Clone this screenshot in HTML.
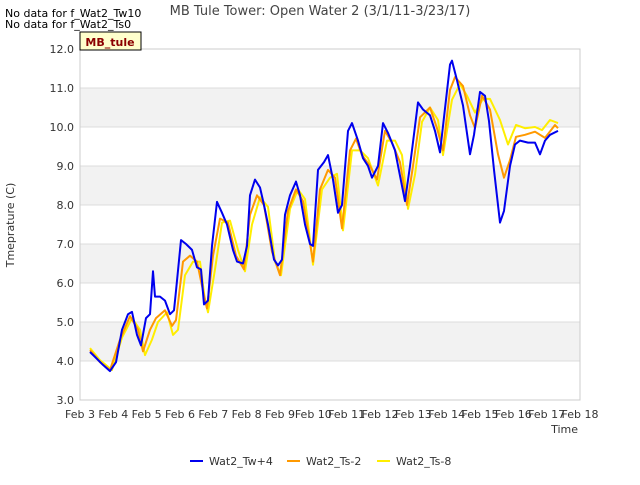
<!DOCTYPE html>
<html><head><meta charset="utf-8"><style>
body{margin:0;background:#fff;font-family:"Liberation Sans",sans-serif;}
svg text{font-family:"DejaVu Sans","Liberation Sans",sans-serif;}
</style></head><body>
<svg id="chart" width="640" height="480">
<text x="5" y="17" font-size="11" fill="#000">No data for f_Wat2_Tw10</text>
<text x="5" y="28" font-size="11" fill="#000">No data for f_Wat2_Ts0</text>
<text x="320" y="15" font-size="13" fill="#444" text-anchor="middle">MB Tule Tower: Open Water 2 (3/1/11-3/23/17)</text>
<g id="bands"></g>
<g id="axes"></g>
<g id="series"></g>
<rect x="80" y="32" width="61" height="18" fill="#ffffcc" stroke="#000"/>
<text x="110" y="46" font-size="11" font-weight="bold" fill="#8b0000" text-anchor="middle">MB_tule</text>
<text x="14" y="225" font-size="11" fill="#333" text-anchor="middle" transform="rotate(-90 14 225)">Tmeprature (C)</text>
<text x="578" y="433" font-size="11" fill="#333" text-anchor="end">Time</text>
<g id="legend"></g>
</svg>
<script>
const xTickLabels=["Feb 3","Feb 4","Feb 5","Feb 6","Feb 7","Feb 8","Feb 9","Feb 10","Feb 11","Feb 12","Feb 13","Feb 14","Feb 15","Feb 16","Feb 17","Feb 18"];
const yTicks=[3,4,5,6,7,8,9,10,11,12];
const seriesNames=["Wat2_Tw+4","Wat2_Ts-2","Wat2_Ts-8"];
const blueDays=[0.3,0.48,0.69,0.9,1.08,1.26,1.44,1.56,1.71,1.83,1.98,2.1,2.19,2.25,2.4,2.55,2.7,2.82,2.88,3.03,3.18,3.36,3.51,3.63,3.72,3.84,3.96,4.11,4.26,4.41,4.59,4.71,4.89,5.01,5.1,5.25,5.4,5.52,5.64,5.82,5.94,6.06,6.15,6.3,6.48,6.6,6.75,6.9,6.99,7.14,7.32,7.44,7.59,7.74,7.86,8.04,8.16,8.34,8.49,8.64,8.76,8.94,9.09,9.24,9.45,9.6,9.75,9.9,10.14,10.29,10.5,10.65,10.8,10.98,11.1,11.16,11.31,11.49,11.7,11.82,12.0,12.15,12.27,12.42,12.6,12.72,12.9,13.05,13.2,13.44,13.65,13.8,13.95,14.1,14.34];
const blueVals=[4.23,4.08,3.9,3.74,3.97,4.8,5.2,5.26,4.67,4.4,5.1,5.2,6.3,5.65,5.65,5.55,5.2,5.3,5.8,7.1,7.0,6.85,6.4,6.35,5.45,5.55,6.95,8.08,7.8,7.5,6.85,6.55,6.5,6.95,8.25,8.65,8.45,8.0,7.5,6.6,6.45,6.6,7.75,8.25,8.6,8.25,7.5,7.0,6.95,8.9,9.1,9.28,8.65,7.8,8.0,9.9,10.1,9.65,9.2,9.0,8.7,9.0,10.1,9.85,9.4,8.75,8.1,9.0,10.63,10.45,10.3,9.9,9.35,10.7,11.6,11.7,11.2,10.55,9.3,9.8,10.9,10.8,10.15,8.9,7.55,7.85,9.0,9.55,9.65,9.6,9.6,9.3,9.65,9.8,9.9];
const orangeDays=[0.3,0.6,0.9,1.2,1.5,1.74,1.89,2.1,2.28,2.55,2.76,2.88,3.09,3.3,3.51,3.69,3.81,3.99,4.2,4.44,4.68,4.92,5.1,5.31,5.52,5.76,6.0,6.24,6.48,6.69,6.99,7.2,7.44,7.65,7.86,8.1,8.28,8.46,8.7,8.91,9.15,9.36,9.6,9.81,9.99,10.2,10.5,10.71,10.89,11.1,11.25,11.49,11.7,11.85,12.06,12.3,12.54,12.72,12.9,13.08,13.35,13.65,13.95,14.25,14.34];
const orangeVals=[4.28,3.97,3.77,4.55,5.15,4.8,4.25,4.8,5.1,5.3,4.9,5.05,6.55,6.7,6.55,5.8,5.35,6.7,7.65,7.55,6.7,6.35,7.75,8.25,8.0,6.8,6.2,7.85,8.4,8.1,6.55,8.4,8.9,8.7,7.4,9.4,9.7,9.28,9.0,8.65,9.9,9.6,9.1,8.0,9.0,10.25,10.5,9.97,9.4,10.95,11.28,11.05,10.3,9.97,10.8,10.45,9.3,8.7,9.15,9.75,9.8,9.88,9.72,10.05,9.97];
const yellowDays=[0.3,0.6,0.96,1.26,1.56,1.8,1.95,2.16,2.34,2.61,2.79,2.94,3.15,3.39,3.6,3.75,3.84,4.05,4.26,4.5,4.74,4.95,5.16,5.4,5.64,5.85,6.03,6.3,6.54,6.75,6.99,7.26,7.5,7.71,7.89,8.16,8.4,8.64,8.94,9.21,9.45,9.66,9.84,10.05,10.26,10.5,10.74,10.89,11.16,11.4,11.61,11.85,12.09,12.3,12.6,12.84,13.08,13.35,13.65,13.86,14.1,14.34];
const yellowVals=[4.33,4.02,3.77,4.6,5.1,4.8,4.15,4.55,5.0,5.25,4.67,4.8,6.2,6.55,6.55,5.55,5.25,6.35,7.55,7.6,6.85,6.3,7.5,8.2,7.95,6.55,6.2,7.9,8.4,8.15,6.47,8.4,8.7,8.8,7.35,9.4,9.4,9.2,8.5,9.65,9.65,9.28,7.9,8.78,10.13,10.5,10.18,9.28,10.7,11.1,10.8,10.37,10.72,10.72,10.18,9.55,10.05,9.97,10.0,9.92,10.18,10.1];
const L=80,R=580,T=49,B=400,NS="http://www.w3.org/2000/svg";
const xs=d=>L+d*(R-L)/15;
const ys=v=>B-(v-3)*(B-T)/9;
function mk(tag,attrs,parent){const e=document.createElementNS(NS,tag);for(const k in attrs)e.setAttribute(k,attrs[k]);parent.appendChild(e);return e;}
const bands=document.getElementById('bands'),axes=document.getElementById('axes'),ser=document.getElementById('series'),leg=document.getElementById('legend');
for(let v=4;v<12;v+=2){const r=mk('rect',{x:L,y:ys(v+1),width:R-L,height:ys(v)-ys(v+1),fill:'#f2f2f2'},bands);

}
yTicks.forEach(v=>{const l=mk('line',{x1:L,x2:R,y1:ys(v),y2:ys(v),stroke:'#dcdcdc'},axes);


const t=mk('text',{x:L-6,y:ys(v)+4,'font-size':11,fill:'#333','text-anchor':'end'},axes);t.textContent=v.toFixed(1);

});
xTickLabels.forEach((s,i)=>{const t=mk('text',{x:xs(i),y:B+18,'font-size':11,fill:'#333','text-anchor':'middle'},axes);t.textContent=s;

});
const fr=mk('rect',{x:L,y:T,width:R-L,height:B-T,fill:'none',stroke:'#ccc'},axes);


const colors=["#0000ee","#ff9900","#ffee00"];
const dd=[blueDays,orangeDays,yellowDays],vv=[blueVals,orangeVals,yellowVals];
[2,1,0].forEach(i=>{const pts=dd[i].map((d,j)=>xs(d).toFixed(1)+','+ys(vv[i][j]).toFixed(1)).join(' ');
const p=mk('polyline',{points:pts,fill:'none',stroke:colors[i],'stroke-width':2,'stroke-linejoin':'round'},ser);

});
const lx=[190,287,377];
seriesNames.forEach((n,i)=>{const l=mk('line',{x1:lx[i],x2:lx[i]+13,y1:461,y2:461,stroke:colors[i],'stroke-width':2},leg);


const t=mk('text',{x:lx[i]+19,y:465,'font-size':11,fill:'#333'},leg);t.textContent=n;

});
</script>
</body></html>
